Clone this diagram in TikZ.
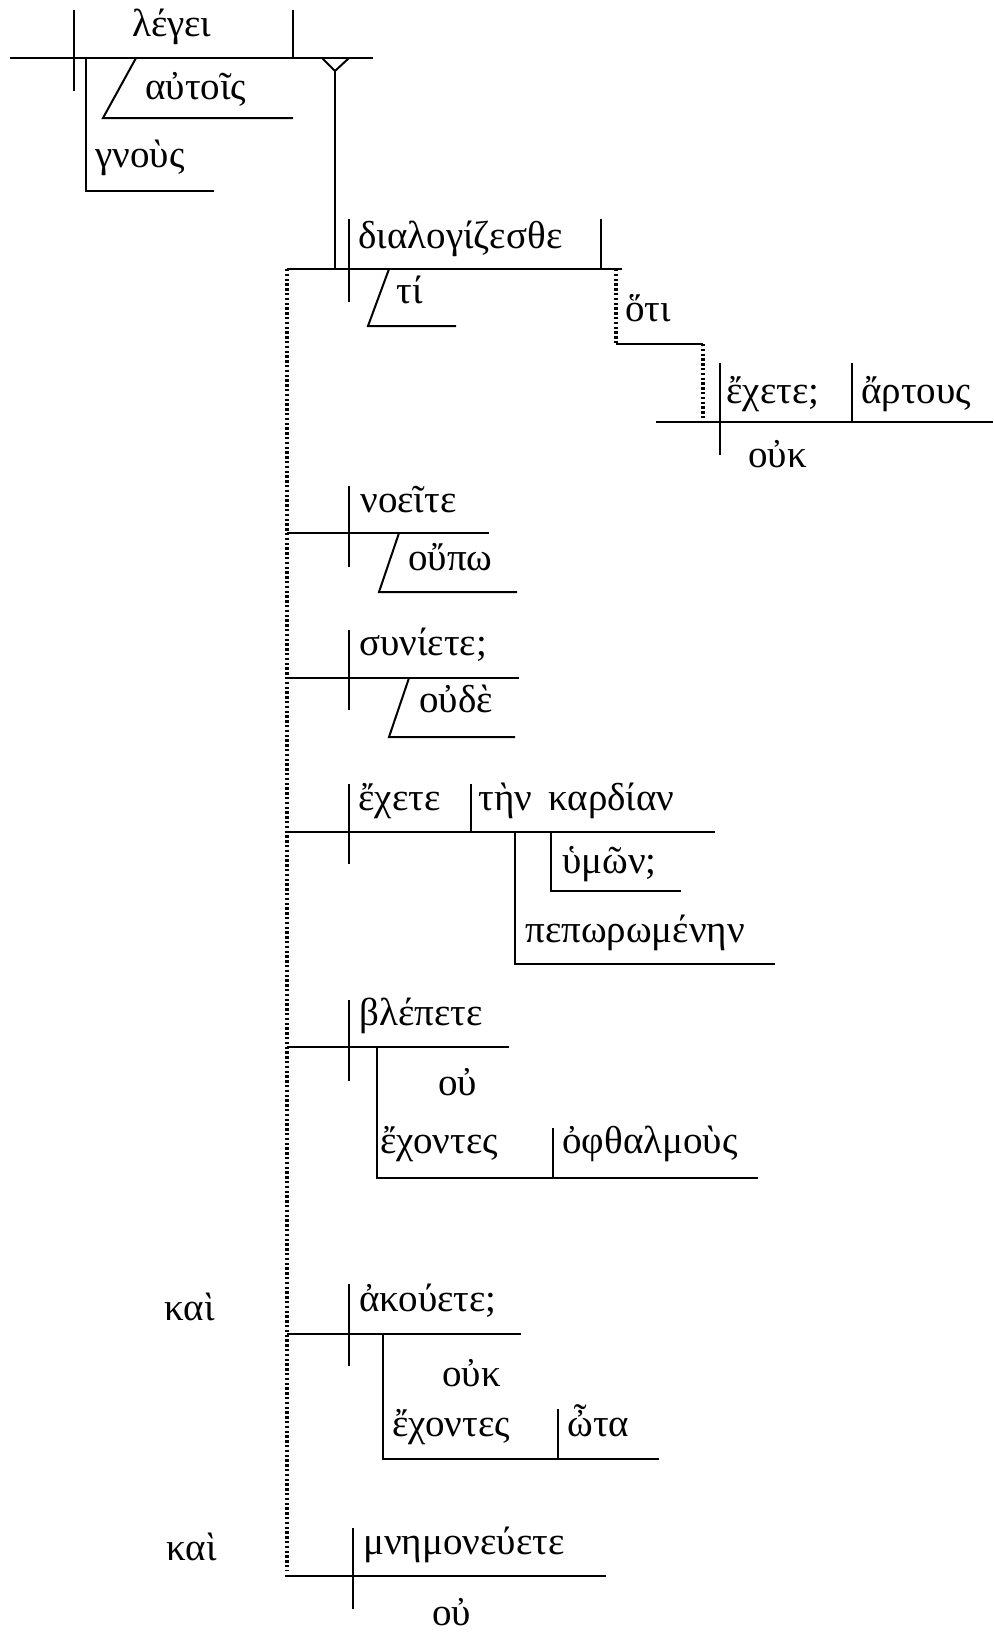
\documentclass[tikz,border=0pt]{standalone}
\usepackage{fontspec}
\setmainfont{Liberation Serif}
\usepackage{tikz}
\usetikzlibrary{calc}
\tikzstyle{word} = [anchor=base west, inner sep=0pt, font=\fontsize{19.5pt}{22pt}\selectfont]
\tikzstyle{diag} = [line width=1pt]
\tikzstyle{dotlink} = [line width=1.6pt, dash pattern=on 1.2pt off 1.2pt]

\begin{document}
\begin{tikzpicture}[x=0.5pt, y=-0.5pt]
    \useasboundingbox (0,0) rectangle (993,1633);

    % main clause
    \draw[diag] (10,58) -- (373,58);
    \draw[diag] (74,10) -- (74,91);
    \draw[diag] (293,10) -- (293,58);
    \draw[diag] (322,58) -- (335,71) -- (349,58);
    \draw[diag] (335,71) -- (335,269);
    \draw[diag] (136,58) -- (103,118) -- (293,118);
    \draw[diag] (86,58) -- (86,191) -- (214,191);
    \node (legei) [word] at (132,36) {λέγει};
    \node (autois) [word] at (145,99) {αὐτοῖς};
    \node (gnous) [word] at (95,167) {γνοὺς};

    % object clause and its compound predicates
    \draw[dotlink] (287,269) -- (287,1571);

    \draw[diag] (287,269) -- (622,269);
    \draw[diag] (349,219) -- (349,302);
    \draw[diag] (601,219) -- (601,269);
    \draw[diag] (389,269) -- (368,326) -- (456,326);
    \node (dialogizesthe) [word] at (358,248) {διαλογίζεσθε};
    \node (ti) [word] at (396,303) {τί};

    \draw[dotlink] (616,269) -- (616,344);
    \draw[diag] (616,344) -- (703,344);
    \draw[dotlink] (703,344) -- (703,422);
    \node (hoti) [word] at (625,321) {ὅτι};

    \draw[diag] (656,422) -- (993,422);
    \draw[diag] (720,363) -- (720,455);
    \draw[diag] (852,363) -- (852,422);
    \node (echete_a) [word] at (726,403) {ἔχετε;};
    \node (artous) [word] at (861,403) {ἄρτους};
    \node (ouk_a) [word] at (748,467) {οὐκ};

    \draw[diag] (287,533) -- (489,533);
    \draw[diag] (349,486) -- (349,567);
    \draw[diag] (399,533) -- (379,592) -- (517,592);
    \node (noeite) [word] at (360,512) {νοεῖτε};
    \node (oupo) [word] at (408,570) {οὔπω};

    \draw[diag] (287,678) -- (519,678);
    \draw[diag] (349,630) -- (349,710);
    \draw[diag] (409,678) -- (389,737) -- (515,737);
    \node (syniete) [word] at (359,655) {συνίετε;};
    \node (oude) [word] at (419,712) {οὐδὲ};

    \draw[diag] (287,832) -- (715,832);
    \draw[diag] (349,784) -- (349,864);
    \draw[diag] (471,784) -- (471,832);
    \draw[diag] (515,832) -- (515,964) -- (775,964);
    \draw[diag] (551,832) -- (551,891) -- (681,891);
    \node (echete_b) [word] at (358,810) {ἔχετε};
    \node (kardian) [word] at (478,810) {τὴν\ \,καρδίαν};
    \node (hymon) [word] at (562,873) {ὑμῶν;};
    \node (peporomenen) [word] at (525,942) {πεπωρωμένην};

    \draw[diag] (287,1047) -- (509,1047);
    \draw[diag] (349,1000) -- (349,1081);
    \draw[diag] (377,1047) -- (377,1178) -- (758,1178);
    \draw[diag] (553,1128) -- (553,1178);
    \node (blepete) [word] at (359,1025) {βλέπετε};
    \node (ou_a) [word] at (438,1095) {οὐ};
    \node (echontes_a) [word] at (380,1153) {ἔχοντες};
    \node (ophthalmous) [word] at (562,1153) {ὀφθαλμοὺς};

    \draw[diag] (287,1334) -- (521,1334);
    \draw[diag] (349,1284) -- (349,1366);
    \draw[diag] (383,1334) -- (383,1459) -- (659,1459);
    \draw[diag] (558,1409) -- (558,1459);
    \node (kai_a) [word] at (164,1320) {καὶ};
    \node (akouete) [word] at (359,1311) {ἀκούετε;};
    \node (ouk_b) [word] at (442,1386) {οὐκ};
    \node (echontes_b) [word] at (392,1436) {ἔχοντες};
    \node (ota) [word] at (567,1436) {ὦτα};

    \draw[diag] (285,1576) -- (606,1576);
    \draw[diag] (353,1528) -- (353,1609);
    \node (kai_b) [word] at (166,1560) {καὶ};
    \node (mnemoneuete) [word] at (363,1554) {μνημονεύετε};
    \node (ou_b) [word] at (432,1625) {οὐ};
\end{tikzpicture}
\end{document}
